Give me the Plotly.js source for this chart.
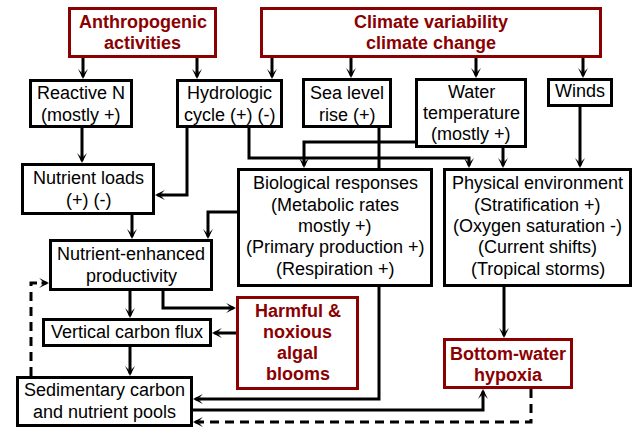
<!DOCTYPE html>
<html><head><meta charset="utf-8">
<script src="https://cdn.plot.ly/plotly-3.0.1.min.js"></script>
<style>html,body{margin:0;padding:0;background:#fff;}#chart{width:634px;height:428px;}</style>
</head><body><div id="chart"></div>
<script>
// ---- content (text) ----
const driverLabels = ["Anthropogenic|activities", "Climate variability|climate change"];
const pressureLabels = ["Reactive N|(mostly +)", "Hydrologic|cycle (+) (-)", "Sea level|rise (+)", "Water|temperature|(mostly +)", "Winds"];
const processLabels = ["Nutrient loads|(+) (-)", "Biological responses|(Metabolic rates|mostly +)|(Primary production +)|(Respiration +)",
  "Physical environment|(Stratification +)|(Oxygen saturation -)|(Current shifts)|(Tropical storms)",
  "Nutrient-enhanced|productivity", "Vertical carbon flux", "Sedimentary carbon|and nutrient pools"];
const outcomeLabels = ["Harmful &|noxious|algal|blooms", "Bottom-water|hypoxia"];

// ---- layout geometry (pixels) ----
const driverBoxes = [[69.5,8.5,215.5,56.5],[261.5,8.5,600.5,56.5]];
const pressureBoxes = [[30.5,80.5,131.5,126.5],[177.5,80.5,281.5,126.5],[303.5,79.5,390.5,126.5],[416.5,79.5,525.5,146.5],[548.5,79.5,611.5,105.5]];
const processBoxes = [[22.5,164.5,153.5,213.5],[238.5,169.5,431.5,285.5],[444.5,169.5,630.5,285.5],[50.5,240.5,211.5,289.5],[43.5,319.5,210.5,345.5],[17.5,377.5,191.5,425.5]];
const outcomeBoxes = [[237.5,297.5,357.5,388.5],[444.5,339.5,571.5,387.5]];
const driverTextY = [32, 32];
const pressureTextY = [104, 104, 104, 113, 91];
const processTextY = [189, 226, 226, 265, 332, 401];
const outcomeTextY = [342.5, 364];

const connectors = [
  {p:[[83,58],[83,79]]},{p:[[197,58],[197,79]]},{p:[[272,58],[272,79]]},
  {p:[[351,58],[351,78]]},{p:[[476,58],[476,78]]},{p:[[583,58],[583,78]]},
  {p:[[82,128],[82,163]]},
  {p:[[187,128],[187,195],[155,195]]},
  {p:[[249,128],[249,158],[469,158],[469,168]]},
  {p:[[415,142],[304,142],[304,168]]},
  {p:[[379,128],[379,399],[193,399]]},
  {p:[[503,148],[503,168]]},
  {p:[[580,107],[580,168]]},
  {p:[[237,212],[208,212],[208,239]]},
  {p:[[132,215],[132,239]]},
  {p:[[130,291],[130,318]]},
  {p:[[163,291],[163,308],[236,308]]},
  {p:[[236,333],[212,333]]},
  {p:[[130,347],[130,376]]},
  {p:[[193,410],[483,410],[483,389]]},
  {p:[[531,389],[531,422],[193,422]], dash:true},
  {p:[[31,376],[31,283],[49,283]], dash:true},
  {p:[[504,287],[504,338]]}
];

const RED = "#8B0000", BLACK = "#000000";
const shapes = [], annotations = [];

connectors.forEach(c => {
  const pts = c.p.map(q => q.slice());
  const n = pts.length;
  const tip = pts[n-1], prev = pts[n-2];
  const dx = tip[0]-prev[0], dy = tip[1]-prev[1];
  const len = Math.hypot(dx, dy), ux = dx/len, uy = dy/len;
  pts[n-1] = [tip[0]-ux*7, tip[1]-uy*7];
  let d = "M" + pts.map(q => q[0] + "," + q[1]).join(" L");
  shapes.push({type:"path", path:d, xref:"x", yref:"y",
    line:{color:BLACK, width:3, dash: c.dash ? "9px,6px" : "solid"}, layer:"above"});
  annotations.push({x:tip[0], y:tip[1], ax:tip[0]-ux*9, ay:tip[1]-uy*9, axref:"x", ayref:"y",
    xref:"x", yref:"y", text:"", showarrow:true, arrowhead:3, arrowsize:0.55, arrowwidth:3,
    arrowcolor:BLACK, standoff:0});
});

function addBoxes(boxes, labels, textY, color, bold) {
  boxes.forEach((b, i) => {
    shapes.push({type:"rect", xref:"x", yref:"y", x0:b[0], y0:b[1], x1:b[2], y1:b[3],
      line:{color:color, width:3}, fillcolor:"#ffffff", layer:"above"});
    const lines = labels[i].split("|");
    const sp = bold ? 21 : 21.3;
    const cx = (b[0]+b[2])/2;
    lines.forEach((t, k) => {
      const y = textY[i] + (k - (lines.length-1)/2) * sp;
      annotations.push({x:cx, y:y, xref:"x", yref:"y", text: bold ? "<b>"+t+"</b>" : t,
        showarrow:false, xanchor:"center", yanchor:"middle",
        font:{family:"Liberation Sans, Arial, sans-serif", size:18, color: bold ? RED : BLACK}});
    });
  });
}
addBoxes(driverBoxes, driverLabels, driverTextY, RED, true);
addBoxes(pressureBoxes, pressureLabels, pressureTextY, BLACK, false);
addBoxes(processBoxes, processLabels, processTextY, BLACK, false);
addBoxes(outcomeBoxes, outcomeLabels, outcomeTextY, RED, true);

const layout = {
  width:634, height:428, margin:{l:0,r:0,t:0,b:0},
  paper_bgcolor:"#ffffff", plot_bgcolor:"#ffffff", showlegend:false,
  xaxis:{range:[0,634], visible:false, fixedrange:true},
  yaxis:{range:[428,0], visible:false, fixedrange:true},
  shapes:shapes, annotations:annotations
};
Plotly.newPlot("chart", [], layout, {staticPlot:true, displayModeBar:false});
</script></body></html>
